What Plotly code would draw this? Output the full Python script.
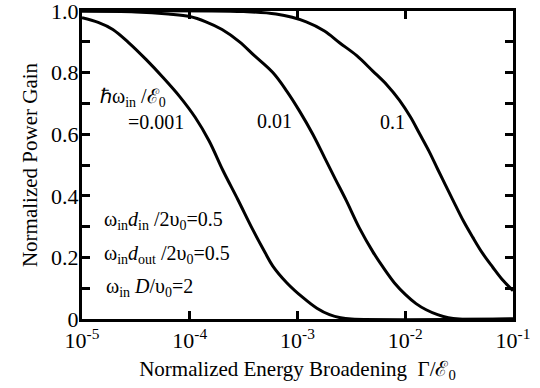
import plotly.graph_objects as go

# Curve data.
# Exponents of x = Gamma/E0 (log10 values) and the normalized power gain.
logx_001 = [-5.0, -4.85, -4.714, -4.56, -4.404, -4.25, -4.095, -3.95, -3.82, -3.693, -3.554, -3.415, -3.3, -3.229, -3.1, -2.951, -2.82, -2.703, -2.6, -2.5, -1.0]
y_001 = [0.978, 0.963, 0.94, 0.895, 0.842, 0.785, 0.723, 0.655, 0.578, 0.483, 0.388, 0.29, 0.215, 0.172, 0.118, 0.07, 0.035, 0.014, 0.004, 0.0, 0.0]

logx_01 = [-5.0, -4.5, -4.2, -4.0, -3.85, -3.7, -3.538, -3.4, -3.229, -3.1, -2.981, -2.858, -2.75, -2.65, -2.548, -2.425, -2.3, -2.2, -2.1, -2.0, -1.9, -1.806, -1.7, -1.6, -1.5, -1.0]
y_01 = [1.0, 0.997, 0.99, 0.982, 0.965, 0.94, 0.9, 0.855, 0.80, 0.74, 0.675, 0.600, 0.525, 0.455, 0.385, 0.295, 0.218, 0.165, 0.117, 0.08, 0.05, 0.03, 0.014, 0.004, 0.0, 0.0]

logx_1 = [-5.0, -3.5, -3.2, -2.919, -2.75, -2.61, -2.45, -2.301, -2.17, -2.053, -1.95, -1.868, -1.78, -1.70, -1.63, -1.559, -1.46, -1.373, -1.28, -1.188, -1.1, -1.0]
y_1 = [1.0, 0.998, 0.99, 0.965, 0.935, 0.897, 0.855, 0.805, 0.76, 0.71, 0.655, 0.602, 0.545, 0.487, 0.437, 0.387, 0.318, 0.265, 0.212, 0.168, 0.128, 0.092]

x_tickvals = [1e-5, 1e-4, 1e-3, 1e-2, 1e-1]
x_ticktext = ["10<sup>-5</sup>", "10<sup>-4</sup>", "10<sup>-3</sup>", "10<sup>-2</sup>", "10<sup>-1</sup>"]
y_tickvals = [0, 0.1, 0.2, 0.3, 0.4, 0.5, 0.6, 0.7, 0.8, 0.9, 1.0]
y_ticktext = ["0", "", "0.2", "", "0.4", "", "0.6", "", "0.8", "", "1.0"]

FONT = "Liberation Serif"

fig = go.Figure()
for lx, ys in [(logx_001, y_001), (logx_01, y_01), (logx_1, y_1)]:
    xs = [10 ** v for v in lx]
    fig.add_trace(go.Scatter(x=xs, y=ys, mode="lines",
                             line=dict(color="black", width=3, shape="spline", smoothing=1.0),
                             showlegend=False, hoverinfo="skip"))

axis_common = dict(showline=True, linecolor="black", linewidth=3, mirror="ticks",
                   ticks="inside", ticklen=8, tickwidth=3, tickcolor="black",
                   showgrid=False, zeroline=False, automargin=False,
                   ticklabeloverflow="allow",
                   tickfont=dict(family=FONT, size=22, color="black"))

fig.update_xaxes(type="log", range=[-5, -1], tickmode="array",
                 tickvals=x_tickvals, ticktext=x_ticktext, ticklabelstandoff=0,
                 title=dict(text="Normalized Energy Broadening  Γ/ℰ<sub>0</sub>",
                            font=dict(family=FONT, size=21, color="black"), standoff=9),
                 **axis_common)
fig.update_yaxes(range=[0, 1], tickmode="array", tickvals=y_tickvals, ticktext=y_ticktext,
                 ticklabelstandoff=-4,
                 title=dict(text="Normalized Power Gain",
                            font=dict(family=FONT, size=21, color="black"), standoff=8),
                 **axis_common)

annots = [
    ("ℏω<sub>in</sub> /ℰ<sub>0</sub>", 98, 97, "left"),
    ("=0.001", 126, 122, "left"),
    ("0.01", 255, 121, "left"),
    ("0.1", 378, 122, "left"),
    ("ω<sub>in</sub><i>d</i><sub>in</sub> /2υ<sub>0</sub>=0.5", 102, 221, "left"),
    ("ω<sub>in</sub><i>d</i><sub>out</sub> /2υ<sub>0</sub>=0.5", 102, 254, "left"),
    ("ω<sub>in</sub> <i>D</i>/υ<sub>0</sub>=2", 104, 287, "left"),
]
W, H = 540, 388
L, R, T, B = 82, 27, 11, 69
for text, px, py, anchor in annots:
    fig.add_annotation(text=text, xref="paper", yref="paper",
                       x=(px - L) / (W - L - R), y=1 - (py - T) / (H - T - B),
                       xanchor=anchor, yanchor="middle", showarrow=False,
                       font=dict(family=FONT, size=20, color="black"))

fig.update_layout(width=W, height=H, margin=dict(l=L, r=R, t=T, b=B),
                  paper_bgcolor="white", plot_bgcolor="white")

fig.write_html("out.html", config={"displayModeBar": False},
               post_script="document.body.style.margin='0';")
